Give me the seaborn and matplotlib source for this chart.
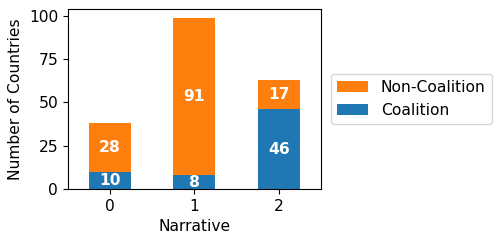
import matplotlib
matplotlib.use("Agg")
import matplotlib.pyplot as plt
import seaborn as sns
import pandas as pd

narratives = [0, 1, 2]
coalition = [10, 8, 46]
non_coalition = [28, 91, 17]

df = pd.DataFrame({"Narrative": narratives, "Coalition": coalition,
                   "Non-Coalition": non_coalition})

plt.rcdefaults()
plt.rcParams['font.family'] = ['DejaVu Sans']
FS = 11.2

fig = plt.figure(figsize=(4.99, 2.43), dpi=100)
ax = fig.add_axes([0.136, 0.222, 0.507, 0.741])

blue = "#1f77b4"
orange = "#ff7f0e"

sns.barplot(data=df, x="Narrative", y="Coalition", color=blue, width=0.5,
            ax=ax, saturation=1, label="Coalition", linewidth=0)
sns.barplot(data=df, x="Narrative", y="Non-Coalition", color=orange, width=0.5,
            ax=ax, saturation=1, bottom=df["Coalition"], label="Non-Coalition",
            linewidth=0)

for cont in ax.containers:
    ax.bar_label(cont, label_type="center", color="white", fontweight="bold",
                 fontsize=FS)

ax.set_xlim(-0.5, 2.5)
ax.set_ylim(0, 99 * 1.05)
ax.set_yticks([0, 25, 50, 75, 100])
ax.set_xlabel("Narrative", fontsize=FS)
ax.set_ylabel("Number of Countries", fontsize=FS)
ax.tick_params(labelsize=FS)
for s in ax.spines.values():
    s.set_visible(True)
    s.set_color("black")
    s.set_linewidth(0.8)

handles, labels = ax.get_legend_handles_labels()
ax.legend(handles[::-1], labels[::-1], loc="center left",
          bbox_to_anchor=(1.01, 0.5), fontsize=FS, frameon=True)

fig.savefig("out.png", dpi=100)
